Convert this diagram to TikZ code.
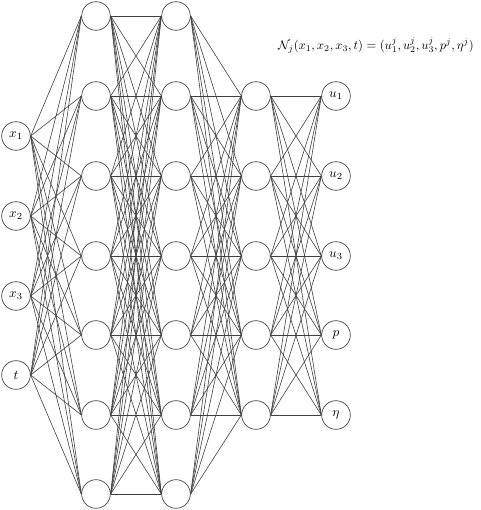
\documentclass[tikz,border=0pt]{standalone}
\begin{document}
\begin{tikzpicture}[x=0.75pt,y=-0.75pt,
  neuron/.style={circle,draw=black!75,line width=0.5pt,minimum size=21.5pt,inner sep=0pt,fill=white},
  conn/.style={draw=black!75,line width=0.45pt}]
\useasboundingbox (0,0) rectangle (480,510);
% input layer
\foreach \i/\lab/\y in {1/x_1/136,2/x_2/216,3/x_3/296,4/t/375}
  \node[neuron] (I\i) at (16,\y) {$\lab$};
% hidden layer 1 and 2
\foreach \i/\y in {1/16,2/96,3/176,4/256,5/335,6/415,7/494}{
  \node[neuron] (A\i) at (96,\y) {};
  \node[neuron] (B\i) at (176,\y) {};
}
% hidden layer 3 and output
\foreach \i/\lab/\y in {1/u_1/96,2/u_2/176,3/u_3/256,4/p/335,5/\eta/415}{
  \node[neuron] (C\i) at (256,\y) {};
  \node[neuron] (O\i) at (336,\y) {$\lab$};
}
\foreach \s in {1,...,4}
  \foreach \t in {1,...,7}
    \draw[conn] (I\s.east) -- (A\t.west);
\foreach \s in {1,...,7}
  \foreach \t in {1,...,7}
    \draw[conn] (A\s.east) -- (B\t.west);
\foreach \s in {1,...,7}
  \foreach \t in {1,...,5}
    \draw[conn] (B\s.east) -- (C\t.west);
\foreach \s in {1,...,5}
  \foreach \t in {1,...,5}
    \draw[conn] (C\s.east) -- (O\t.west);
\node[scale=0.94] (F) at (376,45) {$\mathcal{N}_j(x_1,x_2,x_3,t)=(u_1^j,u_2^j,u_3^j,p^j,\eta^j)$};
\end{tikzpicture}
\end{document}
